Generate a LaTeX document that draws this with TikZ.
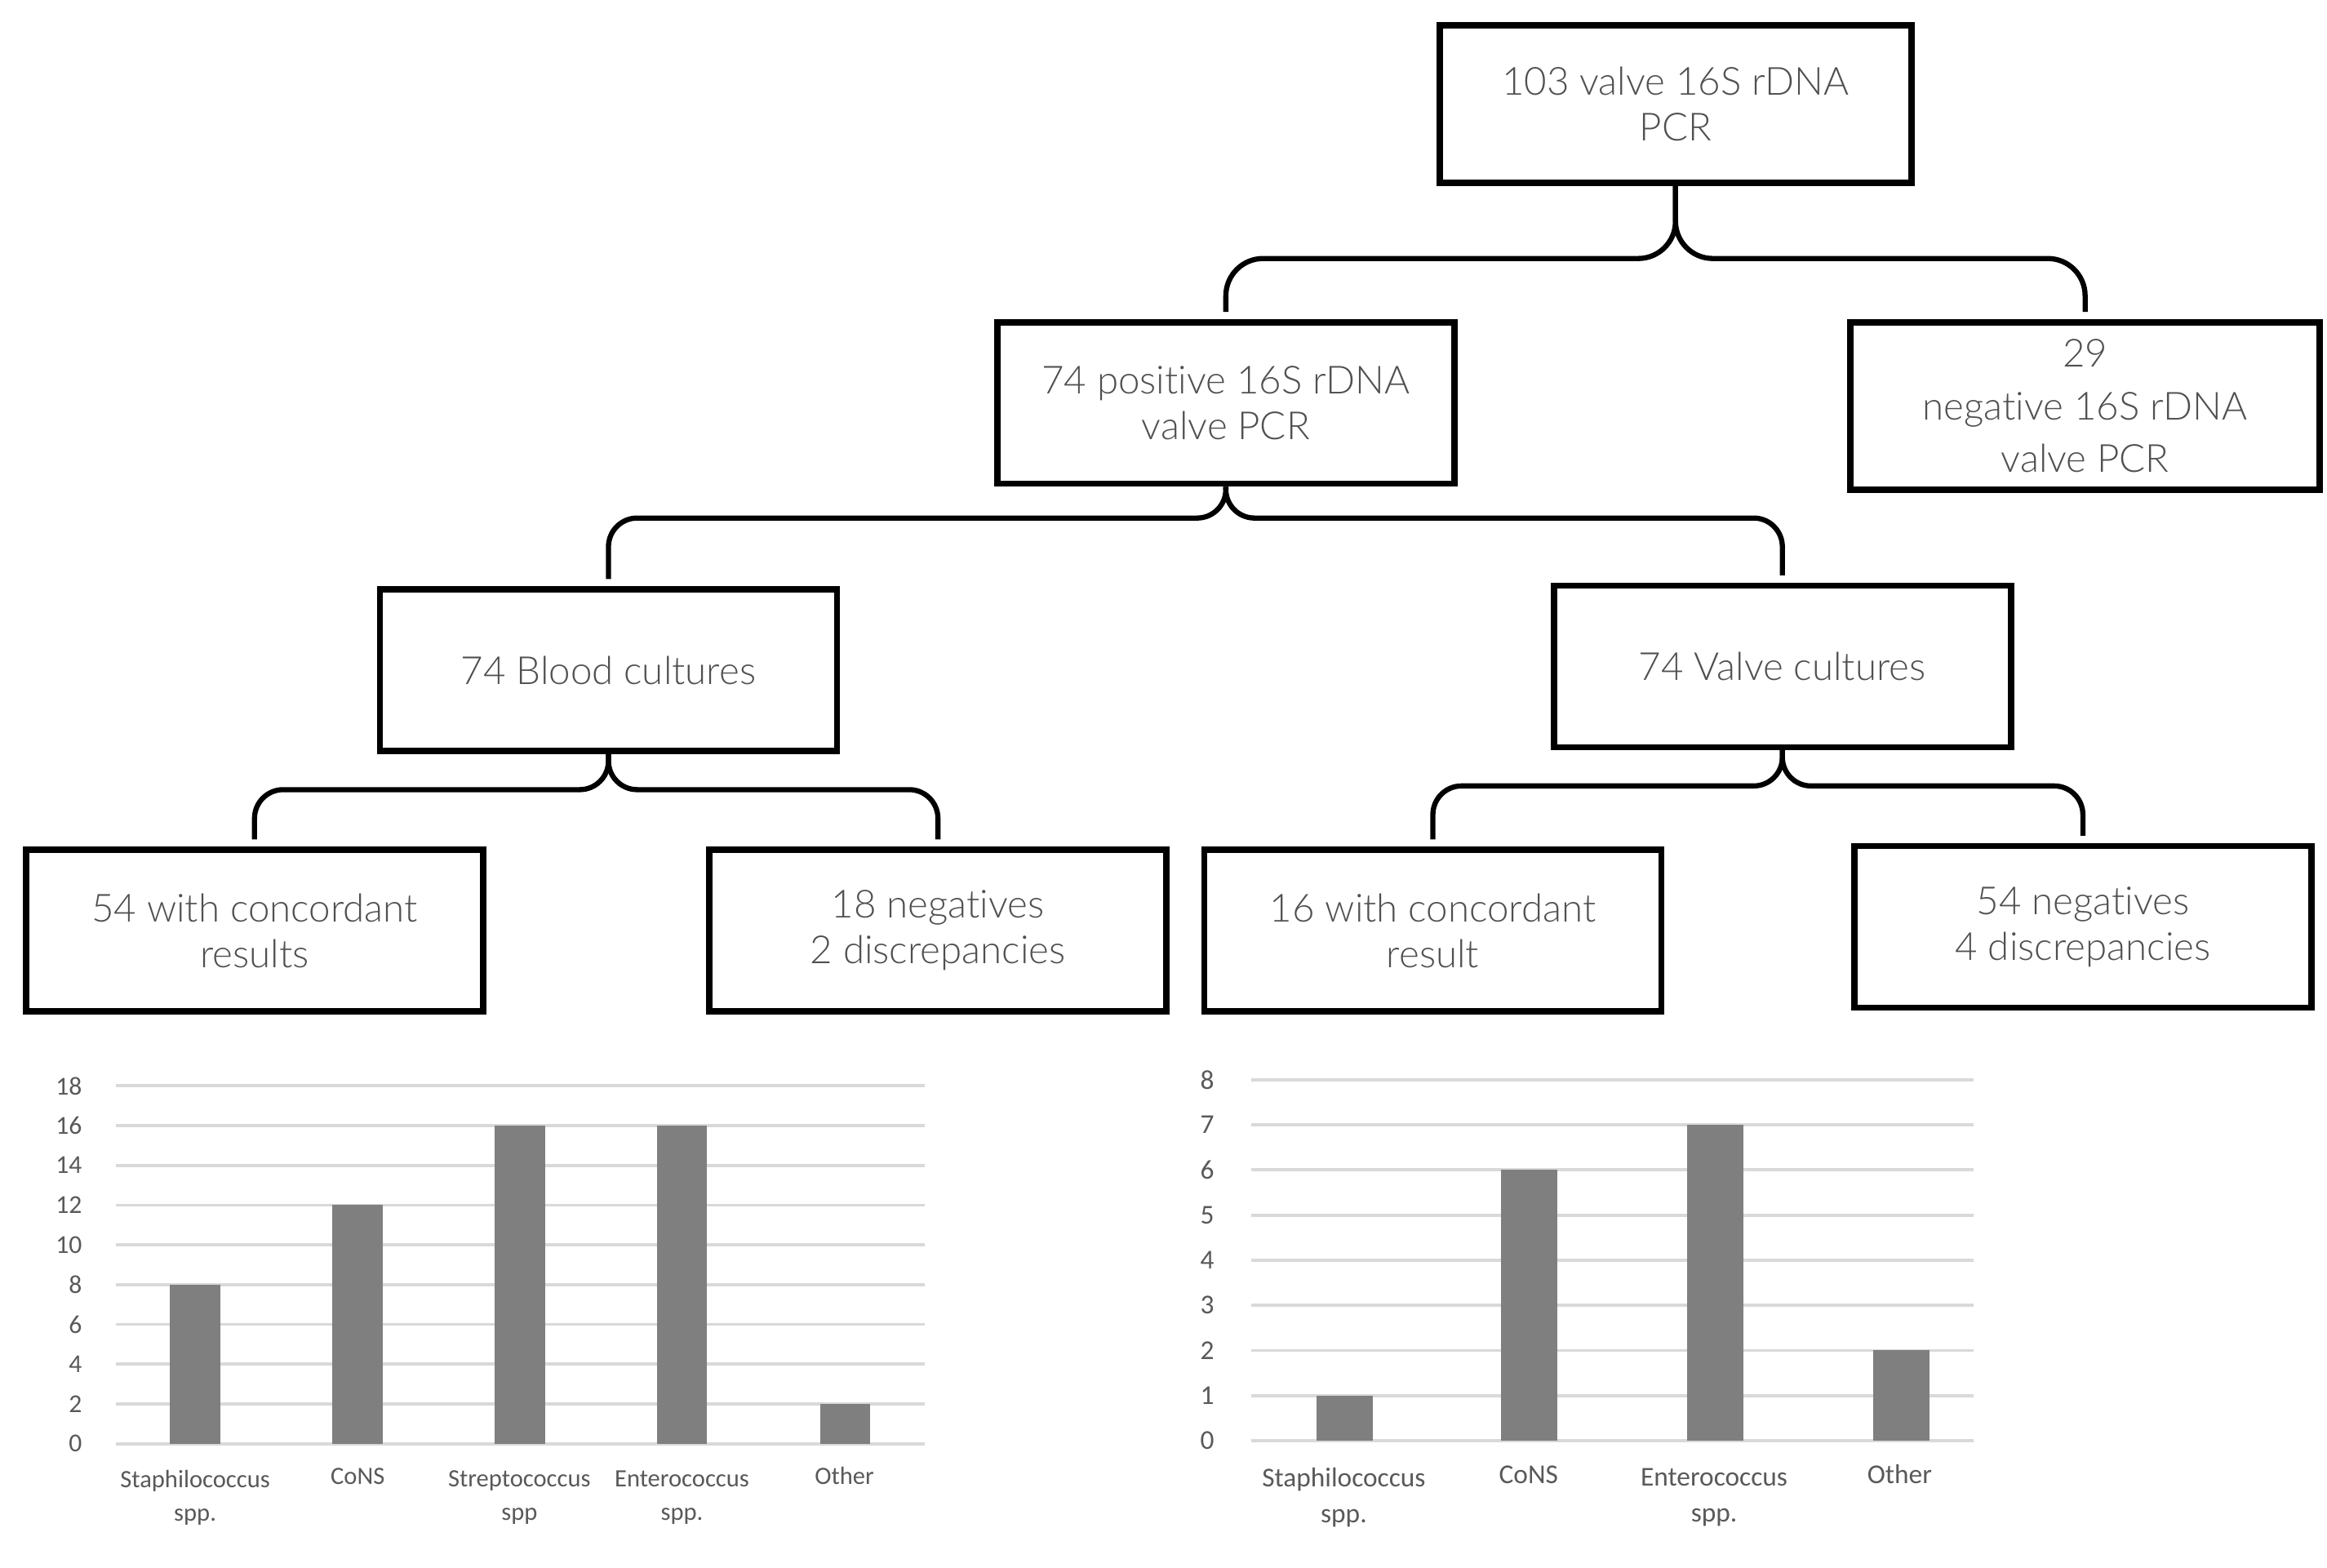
\documentclass[tikz,border=0pt]{standalone}
\usepackage{fontspec}
\setmainfont{Lato}[UprightFont=* Light, Ligatures=NoCommon]
\newfontfamily\chartfont{Carlito}
\usetikzlibrary{positioning}
\definecolor{boxtext}{RGB}{80,80,80}
\definecolor{gridgray}{RGB}{217,217,217}
\definecolor{bargray}{RGB}{127,127,127}
\definecolor{charttext}{RGB}{89,89,89}

\begin{document}
\begin{tikzpicture}[x=0.018182cm, y=-0.018182cm,
  box/.style={draw, line width=2.2pt, align=center, text=boxtext, inner sep=2pt,
    font=\fontsize{13.5}{16}\selectfont, minimum width=5.6cm, minimum height=1.98cm},
  brace/.style={line width=1.8pt, rounded corners=10pt, shorten >=2.5pt},
  gridline/.style={gridgray, line width=1.1pt},
  bar/.style={fill=bargray},
  axisA/.style={text=charttext, align=center, font=\chartfont\fontsize{8.7}{11.6}\selectfont},
  axisB/.style={text=charttext, align=center, font=\chartfont\fontsize{9.5}{12.4}\selectfont}]
\useasboundingbox (0,0) rectangle (1568,1056);

% flow boxes
\node[box, minimum width=5.78cm, minimum height=1.93cm] (total) at (1129,70) {103 valve 16S rDNA\\PCR};
\node[box] (pos) at (826,271.5) {74 positive 16S rDNA\\valve PCR};
\node[box, minimum width=5.75cm, minimum height=2.05cm] (neg) at (1405,273.5) {29\\[2.3pt]negative 16S rDNA\\[2.3pt]valve PCR};
\node[box] (blood) at (410,451.5) {74 Blood cultures};
\node[box] (valve) at (1201,449) {74 Valve cultures};
\node[box] (bconc) at (171.5,627) {54 with concordant\\results};
\node[box] (bneg) at (632,627) {18 negatives\\2 discrepancies};
\node[box] (vconc) at (965.5,627) {16 with concordant\\result};
\node[box] (vneg) at (1403.5,624.5) {54 negatives\\4 discrepancies};

% braces
\draw[brace, rounded corners=13pt] (total.south) -- ++(0,49) -| (pos.north);
\draw[brace, rounded corners=13pt] (total.south) -- ++(0,49) -| (neg.north);
\draw[brace] (pos.south) -- ++(0,21) -| (blood.north);
\draw[brace] (pos.south) -- ++(0,21) -| (valve.north);
\draw[brace] (blood.south) -- ++(0,24) -| (bconc.north);
\draw[brace] (blood.south) -- ++(0,24) -| (bneg.north);
\draw[brace] (valve.south) -- ++(0,24) -| (vconc.north);
\draw[brace] (valve.south) -- ++(0,24) -| (vneg.north);

% blood culture chart
\foreach \v in {0,2,...,18} {
  \draw[gridline] (78,{972.7-13.39*\v}) -- (623,{972.7-13.39*\v});
  \node[axisA, anchor=east, font=\chartfont\fontsize{9}{11}\selectfont] (ba\v) at (62,{972.7-13.39*\v}) {\v};
}
\fill[bar] (114.5,972.7) rectangle (148.5,865.6);
\fill[bar] (224,972.7) rectangle (258,812);
\fill[bar] (333.5,972.7) rectangle (367.5,758.5);
\fill[bar] (442.5,972.7) rectangle (476.5,758.5);
\fill[bar] (552.5,972.7) rectangle (586.5,945.9);
\node[axisA] (bstaph) at (131.5,1009) {Staphilococcus\\spp.};
\node[axisA] (bcons) at (241,1009) {CoNS\\\strut};
\node[axisA] (bstrep) at (350,1009) {Streptococcus\\spp};
\node[axisA] (bentero) at (459.5,1009) {Enterococcus\\spp.};
\node[axisA] (bother) at (569,1009) {Other\\\strut};

% valve culture chart
\foreach \v in {0,...,8} {
  \draw[gridline] (843,{970.7-30.4*\v}) -- (1330,{970.7-30.4*\v});
  \node[axisB, anchor=east] (va\v) at (825,{970.7-30.4*\v}) {\v};
}
\fill[bar] (887,970.7) rectangle (925,940.3);
\fill[bar] (1011.5,970.7) rectangle (1049.5,788.3);
\fill[bar] (1137,970.7) rectangle (1175,757.9);
\fill[bar] (1262,970.7) rectangle (1300,909.9);
\node[axisB] (vstaph) at (905.5,1009) {Staphilococcus\\spp.};
\node[axisB] (vcons) at (1030,1009) {CoNS\\\strut};
\node[axisB] (ventero) at (1155,1009) {Enterococcus\\spp.};
\node[axisB] (vother) at (1280,1009) {Other\\\strut};
\end{tikzpicture}
\end{document}
